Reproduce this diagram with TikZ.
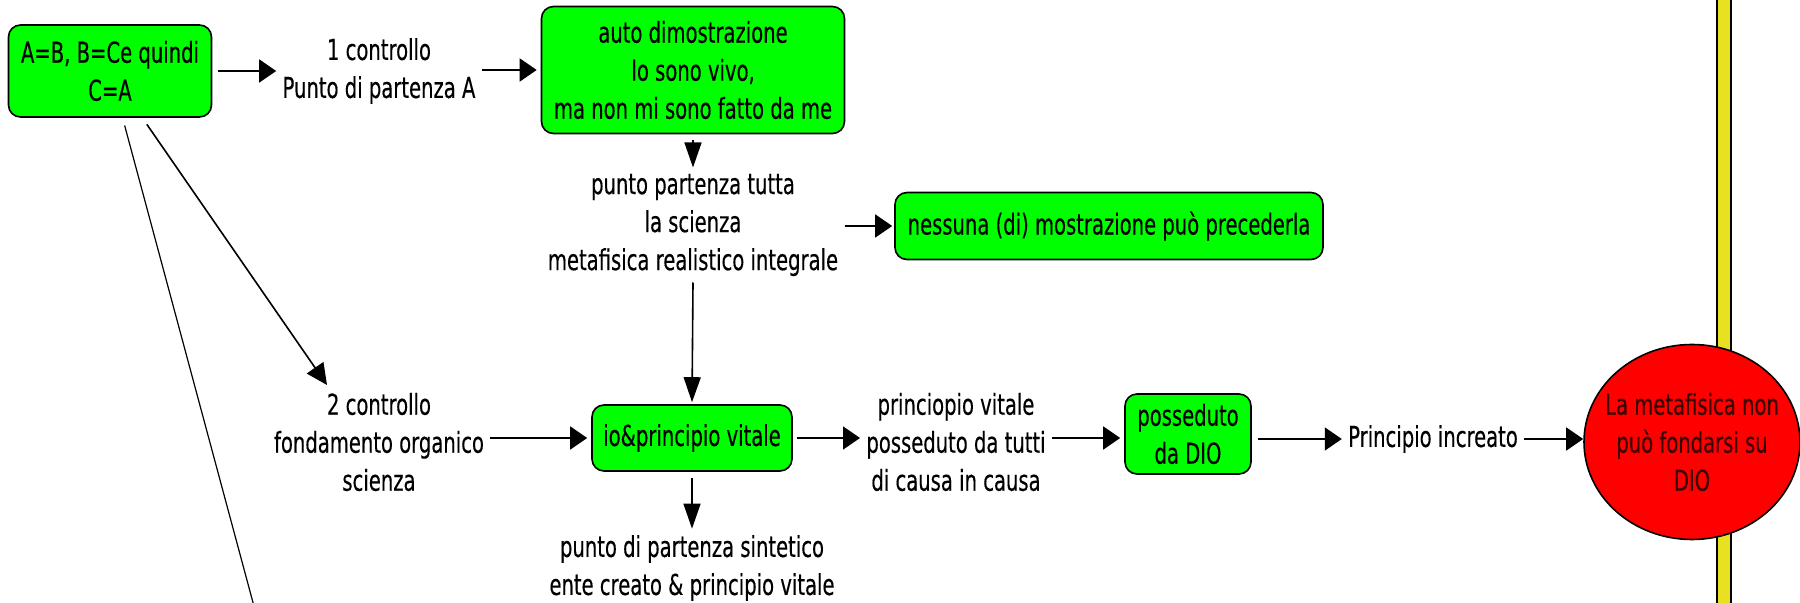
\documentclass[tikz,border=0pt]{standalone}
\usepackage{fontspec}
\setmainfont{DejaVu Sans}[FakeStretch=0.68,FakeBold=0.3]
\usetikzlibrary{arrows.meta,shapes.geometric}
\definecolor{boxgreen}{RGB}{0,255,0}
\definecolor{ellred}{RGB}{255,0,0}
\definecolor{baryellow}{RGB}{232,224,32}
\definecolor{elltext}{RGB}{60,0,0}
\tikzset{
  x=0.5pt,y=-0.5pt,
  every node/.style={font=\fontsize{14.4}{19}\selectfont, align=center},
  gbox/.style={draw=black, line width=0.8pt, fill=boxgreen, rounded corners=6pt, inner sep=2pt},
  lbl/.style={inner sep=3pt},
  arrh/.style={draw=black, line width=0.8pt, -{Triangle[length=8.5pt,width=11.5pt]}},
  arrv/.style={draw=black, line width=0.8pt, -{Triangle[length=12.5pt,width=8.5pt]}},
  arrd/.style={draw=black, line width=0.8pt, -{Triangle[length=10.5pt,width=10pt]}},
  ln/.style={draw=black, line width=0.6pt},
}
\begin{document}
\begin{tikzpicture}
\useasboundingbox (0,0) rectangle (1800,603);
% yellow bar
\fill[baryellow, draw=black, line width=0.6pt] (1717,-5) rectangle (1731,608);
\node[gbox, minimum width=101.5pt, minimum height=46pt] (A) at (110,71) {A=B, B=Ce quindi\\C=A};
\node[lbl] (l1) at (379,71) {1 controllo\\Punto di partenza A};
\node[gbox, minimum width=151.5pt, minimum height=63.5pt] (auto) at (693,70) {auto dimostrazione\\Io sono vivo,\\ma non mi sono fatto da me};
\node[lbl] (l3) at (693,225) {punto partenza tutta\\la scienza\\metafisica realistico integrale};
\node[gbox, minimum width=214pt, minimum height=33.5pt] (ness) at (1109,226) {nessuna (di) mostrazione può precederla};
\node[gbox, minimum width=100pt, minimum height=33pt] (io) at (692,438) {io\&principio vitale};
\node[lbl] (l2) at (379,442) {2 controllo\\fondamento organico\\scienza};
\node[lbl] (l4) at (692,568) {punto di partenza sintetico\\ente creato \& principio vitale};
\node[lbl] (l5) at (956,442) {princiopio vitale\\posseduto da tutti\\di causa in causa};
\node[gbox, minimum width=63pt, minimum height=40pt] (poss) at (1188,434) {posseduto\\da DIO};
\node[lbl] (l6) at (1433,439) {Principio increato};
\node[ellipse, draw=black, line width=0.8pt, fill=ellred, text=elltext, minimum width=108pt, minimum height=97.5pt, inner xsep=-8pt, inner ysep=0pt] (ell) at (1692,442) {La metafisica non\\può fondarsi su\\DIO};
\coordinate (l2t) at (327,385);
\coordinate (off) at (255,610);
% connectors
\draw[arrh, shorten <=3pt] (A.east) -- (l1.west |- A.east);
\draw[arrh, shorten >=2pt] (l1.east |- auto.west) -- (auto.west);
\draw[arrv, shorten <=3pt] (auto.south) -- (l3.north);
\draw[arrh, shorten >=1pt] (l3.east |- ness.west) -- (ness.west);
\draw[arrv, shorten >=1pt] (l3.south) -- (io.north);
\draw[arrh, shorten >=2pt] (l2.east |- io.west) -- (io.west);
\draw[arrd, shorten <=4pt] (A) -- (l2t);
\draw[ln, shorten <=4pt] (A) -- (off);
\draw[arrv, shorten <=3pt] (io.south) -- (l4.north);
\draw[arrh, shorten <=2pt] (io.east) -- (l5.west |- io.east);
\draw[arrh, shorten >=2pt] (l5.east |- io.east) -- (poss.west |- io.east);
\draw[arrh, shorten <=3pt] (poss.east |- l6.west) -- (l6.west);
\draw[arrh] (l6.east) -- (ell.west |- l6.east);
\end{tikzpicture}
\end{document}
